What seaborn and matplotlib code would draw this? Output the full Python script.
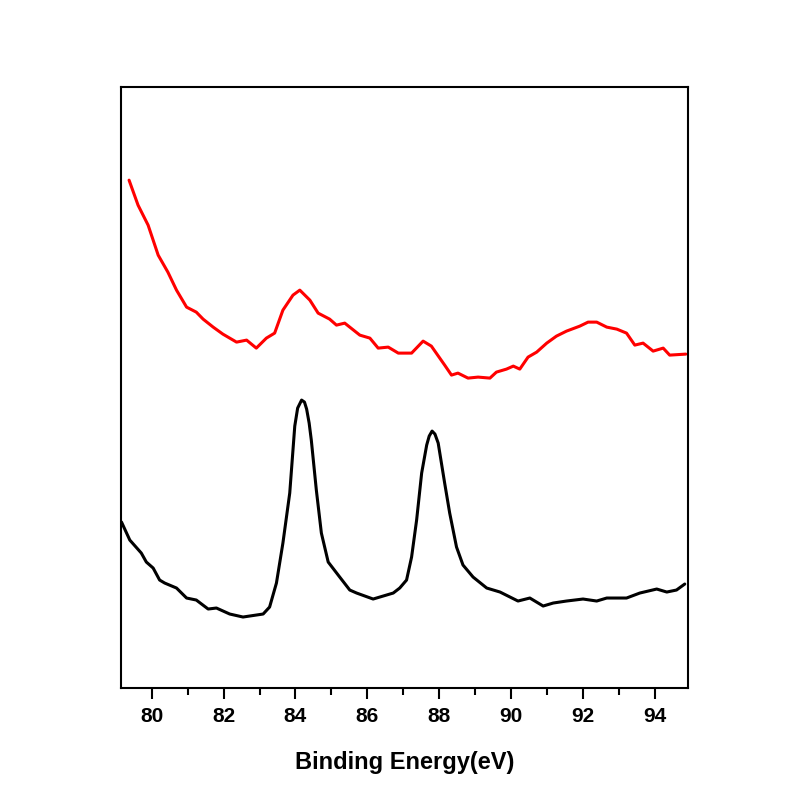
import matplotlib
matplotlib.use("Agg")
import matplotlib.pyplot as plt
from matplotlib.ticker import MultipleLocator
import seaborn as sns
import pandas as pd

# binding energy (eV) and intensity (a.u.)
black_ev = [79.16, 79.39, 79.71, 79.85, 80.04, 80.22, 80.36, 80.69, 80.97, 81.24,
            81.57, 81.80, 82.17, 82.54, 83.10, 83.28, 83.47, 83.65, 83.84, 83.98,
            84.06, 84.17, 84.25, 84.31, 84.38, 84.44, 84.58, 84.72, 84.91, 85.23,
            85.51, 85.70, 86.16, 86.44, 86.72, 86.90, 87.09, 87.23, 87.37, 87.51,
            87.65, 87.72, 87.80, 87.88, 87.97, 88.15, 88.29, 88.48, 88.66, 88.94,
            89.32, 89.69, 90.19, 90.52, 90.89, 91.17, 91.54, 92.00, 92.38, 92.66,
            93.21, 93.58, 94.05, 94.33, 94.60, 94.83]
black_int = [166, 148, 135, 126, 120, 108, 105, 100, 90, 88,
             79, 80, 74, 71, 74, 81, 105, 145, 195, 262,
             280, 288, 286, 279, 265, 248, 198, 155, 126, 111,
             98, 95, 89, 92, 95, 100, 108, 131, 168, 215,
             243, 252, 257, 254, 245, 205, 175, 141, 123, 111,
             100, 96, 87, 90, 82, 85, 87, 89, 87, 90,
             90, 95, 99, 96, 98, 104]

red_ev = [79.37, 79.62, 79.90, 80.18, 80.45, 80.69, 80.97, 81.24, 81.43, 81.71,
          81.98, 82.36, 82.64, 82.91, 83.19, 83.42, 83.65, 83.93, 84.12, 84.40,
          84.63, 84.95, 85.14, 85.37, 85.79, 86.07, 86.30, 86.58, 86.86, 87.23,
          87.55, 87.78, 88.15, 88.34, 88.52, 88.80, 89.08, 89.41, 89.59, 89.87,
          90.06, 90.24, 90.47, 90.71, 90.99, 91.26, 91.54, 91.91, 92.14, 92.38,
          92.66, 92.94, 93.21, 93.44, 93.67, 93.95, 94.23, 94.41, 94.86]
red_int = [508, 483, 463, 433, 416, 398, 381, 376, 369, 361,
           354, 346, 348, 340, 350, 355, 378, 393, 398, 388,
           375, 369, 363, 365, 353, 350, 340, 341, 335, 335,
           347, 342, 323, 313, 315, 310, 311, 310, 316, 319,
           322, 319, 331, 336, 345, 352, 357, 362, 366, 366,
           361, 359, 355, 343, 345, 337, 340, 333, 334]

sns.set_style("ticks")
plt.rcParams['font.family'] = ['Liberation Sans', 'DejaVu Sans']
plt.rcParams['text.color'] = 'black'
plt.rcParams['xtick.color'] = 'black'
plt.rcParams['axes.labelcolor'] = 'black'

fig = plt.figure(figsize=(8, 8), dpi=100)
ax = fig.add_axes([0.151, 0.14, 0.709, 0.751])

df_black = pd.DataFrame({"ev": black_ev, "intensity": black_int})
df_red = pd.DataFrame({"ev": red_ev, "intensity": red_int})
sns.lineplot(data=df_black, x="ev", y="intensity", color="black", lw=2.2, ax=ax, sort=False)
sns.lineplot(data=df_red, x="ev", y="intensity", color="red", lw=2.2, ax=ax, sort=False)

ax.set_xlim(79.14, 94.92)
ax.set_ylim(0, 601)
ax.xaxis.set_major_locator(MultipleLocator(2))
ax.xaxis.set_minor_locator(MultipleLocator(1))
ax.set_yticks([])
ax.tick_params(axis="x", which="major", direction="out", length=8, width=1.5,
               labelsize=15, pad=6, colors="black")
ax.tick_params(axis="x", which="minor", direction="out", length=5, width=1.5,
               colors="black")
for lab in ax.get_xticklabels():
    lab.set_fontweight("bold")
for sp in ax.spines.values():
    sp.set_visible(True)
    sp.set_linewidth(1.5)
    sp.set_color("black")

ax.set_xlabel("Binding Energy(eV)", fontsize=17, fontweight="bold", labelpad=18,
              color="black")
ax.set_ylabel("")

fig.savefig("out.png", dpi=100)
